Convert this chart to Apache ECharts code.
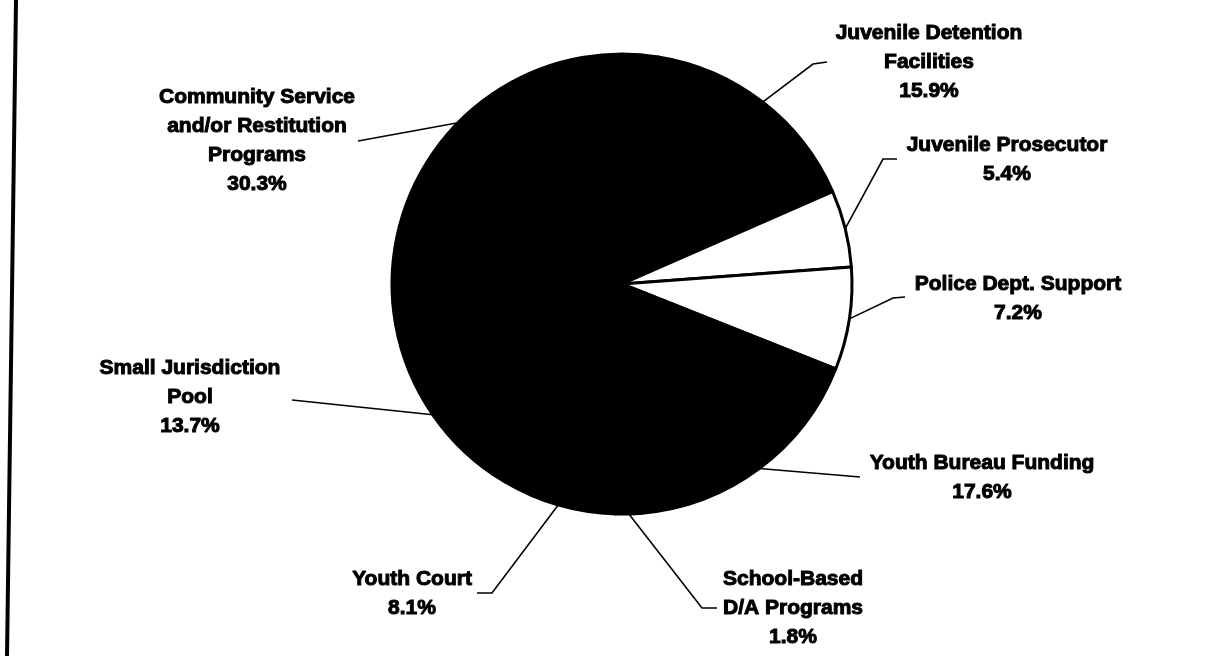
<!DOCTYPE html>
<html>
<head>
<meta charset="utf-8">
<script src="https://cdn.jsdelivr.net/npm/echarts@6/dist/echarts.min.js"></script>
<style>
  html, body { margin: 0; padding: 0; background: #fff; }
  #chart { width: 1226px; height: 656px; }
</style>
</head>
<body>
<div id="chart"></div>
<script>
// ---- data ----
const categories = [
  'Community Service\nand/or Restitution\nPrograms',
  'Juvenile Detention\nFacilities',
  'Juvenile Prosecutor',
  'Police Dept. Support',
  'Youth Bureau Funding',
  'School-Based\nD/A Programs',
  'Youth Court',
  'Small Jurisdiction\nPool'
];
const shares = [30.3, 15.9, 5.4, 7.2, 17.6, 1.8, 8.1, 13.7];
const sliceFill = ['#000', '#000', '#fff', '#fff', '#000', '#000', '#000', '#000'];

// ---- label placement (text block centre, leader elbow, leader end) ----
const labelAnchors = [
  { c: [257, 141], elbow: [358, 141], end: [358, 141] },
  { c: [929, 62],  elbow: [813, 64],  end: [827, 62] },
  { c: [1007, 160], elbow: [883, 159], end: [897, 159] },
  { c: [1018, 299], elbow: [893, 298], end: [905, 297] },
  { c: [982, 478], elbow: [860, 477], end: [860, 477] },
  { c: [793, 608], elbow: [702, 608], end: [717, 608] },
  { c: [412, 594], elbow: [492, 593], end: [477, 593] },
  { c: [190, 397], elbow: [292, 400], end: [292, 400] }
];

const chart = echarts.init(document.getElementById('chart'), null, { renderer: 'canvas' });

const seriesData = categories.map((name, i) => ({
  name: name,
  value: shares[i],
  itemStyle: { color: sliceFill[i] }
}));

chart.setOption({
  backgroundColor: '#fff',
  animation: false,
  graphic: [{
    type: 'line',
    shape: { x1: 16, y1: 0, x2: 7, y2: 656 },
    style: { stroke: '#000', lineWidth: 4 }
  }],
  series: [{
    type: 'pie',
    center: [622, 284],
    radius: [0, 230],
    startAngle: 190,
    clockwise: true,
    avoidLabelOverlap: false,
    data: seriesData,
    itemStyle: { borderColor: '#000', borderWidth: 3 },
    label: {
      show: true,
      position: 'outside',
      formatter: '{b}\n{c}%',
      color: '#000',
      fontFamily: 'Liberation Sans, Arial, sans-serif',
      fontWeight: 'bold',
      fontSize: 21,
      lineHeight: 29,
      textBorderColor: '#000',
      textBorderWidth: 1
    },
    labelLine: {
      show: true,
      lineStyle: { color: '#000', width: 1.6 }
    },
    labelLayout: function (params) {
      const a = labelAnchors[params.dataIndex];
      const p0 = params.labelLinePoints ? params.labelLinePoints[0] : a.elbow;
      return {
        x: a.c[0],
        y: a.c[1],
        align: 'center',
        verticalAlign: 'middle',
        labelLinePoints: [p0, a.elbow, a.end]
      };
    },
    emphasis: { disabled: true }
  }]
});
</script>
</body>
</html>
